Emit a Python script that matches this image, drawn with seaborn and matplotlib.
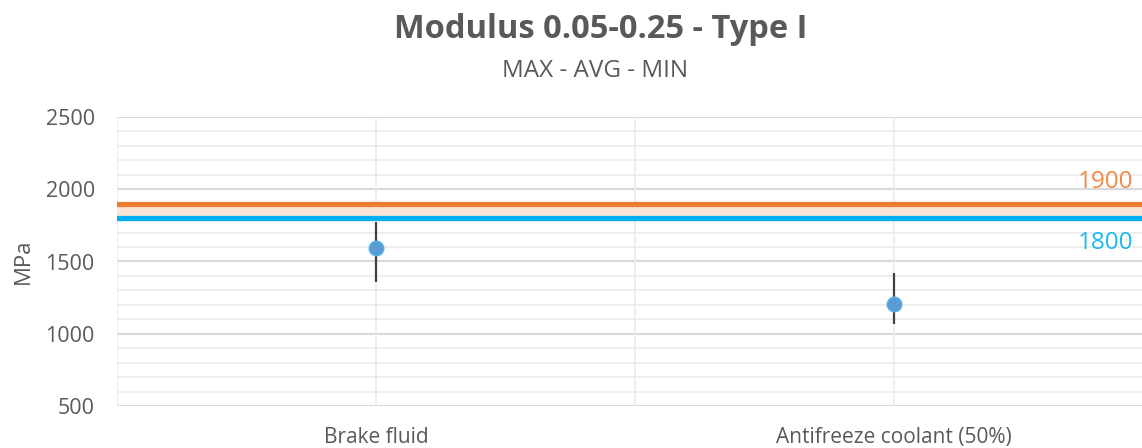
import matplotlib
matplotlib.use("Agg")
import matplotlib.pyplot as plt
import seaborn as sns
import pandas as pd
import numpy as np

categories = ["Brake fluid", "Antifreeze coolant (50%)"]
avg_vals = [1590, 1207]
max_vals = [1775, 1422]
min_vals = [1360, 1067]
ref_upper = 1900
ref_lower = 1800
y_ticks = [500, 1000, 1500, 2000, 2500]

sns.set_theme(style="white")
plt.rcParams['font.family'] = ['Open Sans', 'DejaVu Sans']

df = pd.DataFrame({"cat": categories, "avg": avg_vals, "max": max_vals, "min": min_vals})

fig = plt.figure(figsize=(11.42, 4.48), dpi=100)
ax = fig.add_axes([117/1142, 1-406/448, 1036/1142, 289/448])

grey = "#595959"
# minor / major horizontal grid
for v in np.arange(500, 2501, 100):
    major = v % 500 == 0
    ax.axhline(v, color="#D9D9D9" if major else "#EBEBEB", lw=1.5 if major else 1.2, zorder=0)
# vertical grid at category centres and boundaries
for xv in [-0.5, 0, 0.5, 1]:
    ax.axvline(xv, color="#EBEBEB", lw=1.2, zorder=0)

# band and reference lines
ax.axhspan(ref_lower, ref_upper, color="#FBE5D6", zorder=1, lw=0)
ax.axhline(ref_upper, color="#ED7D31", lw=3.8, zorder=2)
ax.axhline(ref_lower, color="#00B0F0", lw=3.8, zorder=2)

# error bars (max-min)
ax.vlines(range(len(categories)), df["min"], df["max"], color="#404040", lw=1.6, zorder=3)
sns.scatterplot(data=df, x="cat", y="avg", ax=ax, s=110, color="#5B9BD5",
                edgecolor="#4FB3F0", linewidth=1, zorder=4, legend=False)

ax.set_xlim(-0.5, 1.5)
ax.set_ylim(500, 2500)
ax.set_yticks(y_ticks)
ax.set_xticks(range(len(categories)))
ax.set_xticklabels(categories)
ax.tick_params(axis="y", labelsize=15.5, colors=grey, length=0, pad=16)
ax.tick_params(axis="x", labelsize=15, colors=grey, length=0, pad=15)
for s in ax.spines.values():
    s.set_visible(False)
ax.set_xlabel("")
ax.set_ylabel("MPa", fontsize=16, color=grey, labelpad=8)

xr = (1133 - 117) / 1036 * 2 - 0.5
ax.annotate(str(ref_upper), xy=(xr, ref_upper), xytext=(0, 7), textcoords="offset points",
            ha="right", va="bottom", fontsize=17.5, color="#F08A45")
ax.annotate(str(ref_lower), xy=(xr, ref_lower), xytext=(0, -9), textcoords="offset points",
            ha="right", va="top", fontsize=17.5, color="#1CB8EE")

fig.text(601/1142, 1-30/448, "Modulus 0.05-0.25 - Type I", ha="center", va="center",
         fontsize=23.5, fontweight="bold", color=grey)
fig.text(595/1142, 1-71/448, "MAX - AVG - MIN", ha="center", va="center",
         fontsize=17.5, color=grey)

fig.savefig("out.png", dpi=100)
